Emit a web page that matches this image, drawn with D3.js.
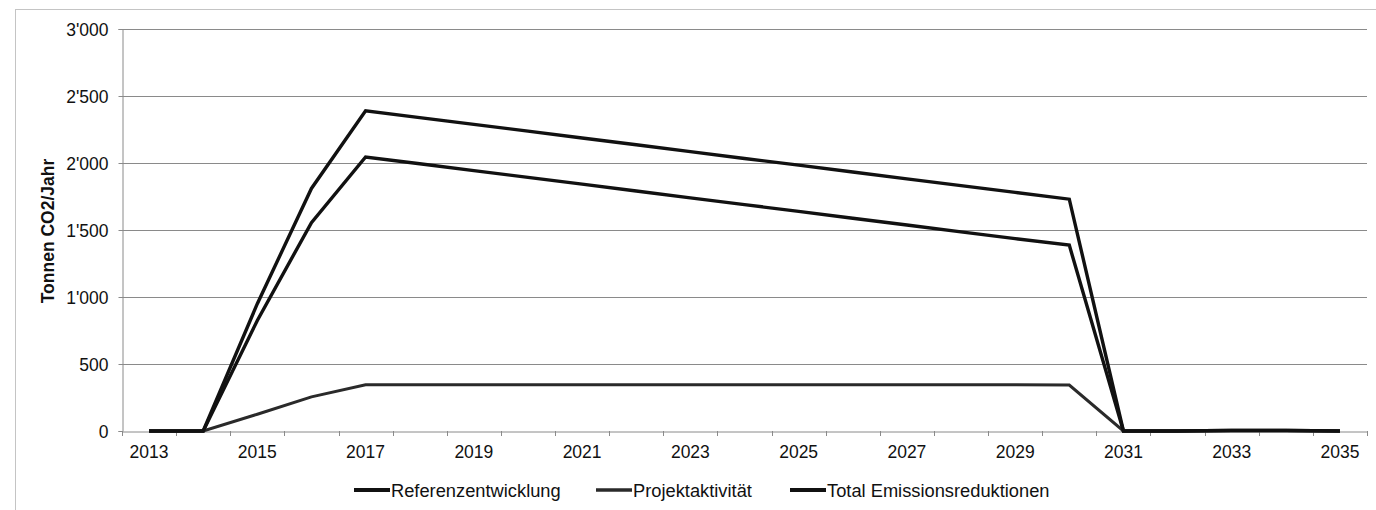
<!DOCTYPE html>
<html>
<head>
<meta charset="utf-8">
<script src="https://cdn.jsdelivr.net/npm/d3@7"></script>
<style>
html,body{margin:0;padding:0;background:#fff;}
svg{display:block;}
text{font-family:"Liberation Sans",Arial,sans-serif;fill:#111;}
</style>
</head>
<body>
<svg id="chart" width="1376" height="510"></svg>
<script>
const years = [2013,2014,2015,2016,2017,2018,2019,2020,2021,2022,2023,2024,2025,2026,2027,2028,2029,2030,2031,2032,2033,2034,2035];
const referenz = [0,0,950,1810,2390,2339,2288,2238,2187,2136,2085,2034,1984,1933,1882,1831,1781,1730,0,0,5,5,0];
const projekt  = [0,0,125,255,345,345,345,345,345,345,345,345,345,345,345,345,345,343,0,0,0,0,0];
const total    = [0,0,825,1555,2045,1994,1943,1893,1842,1791,1740,1689,1639,1588,1537,1486,1436,1387,0,0,5,5,0];
const yTicks = [0,500,1000,1500,2000,2500,3000];
const xLabelYears = [2013,2015,2017,2019,2021,2023,2025,2027,2029,2031,2033,2035];
const seriesNames = ["Referenzentwicklung","Projektaktivität","Total Emissionsreduktionen"];
const yTitle = "Tonnen CO2/Jahr";

const svg = d3.select("#chart");
const L = 122, R = 1367, T = 29, B = 431;

// outer dotted border
svg.append("rect").attr("x",15.5).attr("y",9.5).attr("width",1380).attr("height",520)
  .attr("fill","none").attr("stroke","#888").attr("stroke-width",1).attr("stroke-dasharray","1,1");

const x = d3.scaleBand().domain(years).range([L,R]).padding(0);
const xc = d => x(d) + x.bandwidth()/2;
const y = d3.scaleLinear().domain([0,3000]).range([B,T]);
const loc = d3.formatLocale({decimal:".", thousands:"'", grouping:[3], currency:["",""]});
const fmt = loc.format(",d");

// gridlines
svg.append("g").selectAll("line").data(yTicks.filter(d=>d>0)).join("line")
  .attr("x1",L).attr("x2",R).attr("y1",d=>Math.round(y(d))+0.5).attr("y2",d=>Math.round(y(d))+0.5)
  .attr("stroke","#8a8a8a").attr("stroke-width",1);

// y axis
const yAxis = d3.axisLeft(y).tickValues(yTicks).tickSize(4).tickPadding(10).tickFormat(fmt);
const gy = svg.append("g").attr("transform",`translate(${L+0.5},0)`).call(yAxis);
gy.select(".domain").attr("stroke","#8a8a8a");
gy.selectAll(".tick line").attr("stroke","#8a8a8a");
gy.selectAll(".tick text").attr("font-size",17.5).attr("fill","#111")
  .attr("font-family","Liberation Sans, Arial, sans-serif").attr("dy","0.35em");

// x axis (labels on every other category)
const xAxis = d3.axisBottom(x).tickValues(xLabelYears).tickSize(0).tickPadding(14);
const gx = svg.append("g").attr("transform",`translate(0,${B+0.5})`).call(xAxis);
gx.select(".domain").attr("stroke","#8a8a8a");
gx.selectAll(".tick text").attr("font-size",17.5).attr("fill","#111")
  .attr("font-family","Liberation Sans, Arial, sans-serif");
// category boundary tick marks
const bounds = years.map(d => x(d)).concat([R]);
svg.append("g").selectAll("line").data(bounds).join("line")
  .attr("x1",d=>Math.round(d)+0.5).attr("x2",d=>Math.round(d)+0.5)
  .attr("y1",B).attr("y2",B+5).attr("stroke","#8a8a8a");

// y title
svg.append("text").attr("transform",`translate(54,231) rotate(-90)`)
  .attr("text-anchor","middle").attr("font-size",17.5).attr("font-weight","bold").text(yTitle);

// lines
const seriesData = [referenz, projekt, total];
const strokes = ["#111","#2a2a2a","#111"];
const widths = [3.4,3,3.4];
const line = d3.line().x((d,i)=>xc(years[i])).y(d=>y(d));
svg.append("g").selectAll("path").data(seriesData).join("path")
  .attr("d",d=>line(d)).attr("fill","none")
  .attr("stroke",(d,i)=>strokes[i]).attr("stroke-width",(d,i)=>widths[i])
  .attr("stroke-linejoin","miter");

// legend
const legX = [354, 596, 790];
const lg = svg.append("g");
seriesNames.forEach((name,i)=>{
  lg.append("line").attr("x1",legX[i]).attr("x2",legX[i]+36).attr("y1",490).attr("y2",490)
    .attr("stroke",strokes[i]).attr("stroke-width",widths[i]+0.5);
  lg.append("text").attr("x",legX[i]+37).attr("y",496.5).attr("font-size",18.3).text(name);
});
</script>
</body>
</html>
